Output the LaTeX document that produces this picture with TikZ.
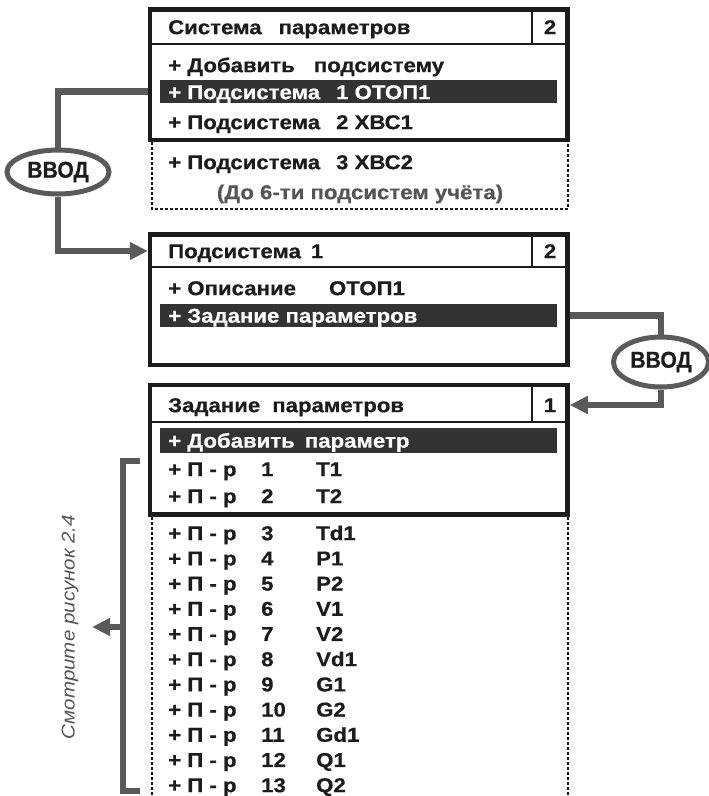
\documentclass[tikz,border=0pt]{standalone}
\usepackage{fontspec}
\setmainfont{Liberation Sans}[FakeStretch=1.11,BoldFeatures={FakeBold=0.6}]
\newfontfamily\vvodfont{Liberation Sans}[FakeStretch=0.92,BoldFeatures={FakeBold=0.6}]
\usetikzlibrary{shapes.geometric,arrows.meta}

\definecolor{ramka}{HTML}{1C1C1C}
\definecolor{strelka}{HTML}{5A5A5A}
\definecolor{vydel}{HTML}{333333}
\definecolor{seryj}{HTML}{555555}

\begin{document}
\begin{tikzpicture}[x=1pt,y=-1pt,line join=miter,font=\fontsize{20}{20}\selectfont\bfseries,
	ramkabox/.style={draw=ramka,line width=4.5pt,inner sep=0pt,minimum width=417.5pt},
	tonk/.style={draw=ramka,line width=1.8pt},
	punktir/.style={draw=ramka,line width=1.2pt,dash pattern=on 3pt off 2pt},
	vydbar/.style={fill=vydel,inner sep=0pt,minimum width=397pt,minimum height=23pt,anchor=west},
	stroka/.style={anchor=west,inner sep=0pt,text=ramka,text height=14.3pt,text depth=0pt},
	belstroka/.style={stroka,text=white},
	svyaz/.style={draw=strelka,line width=6.5pt},
	tip/.style={-{Triangle[length=18pt,width=17pt]}},
	vvod/.style={ellipse,draw=strelka,line width=5pt,fill=white,inner sep=0pt,text=ramka,
		font=\vvodfont\fontsize{23}{23}\selectfont\bfseries}]
	% рамка рисунка
	\useasboundingbox (0,0) rectangle (709,796);
	% Система параметров
	\node[ramkabox,minimum height=130.5pt] (sys) at (358.75,74.75) {};
	\draw[tonk] (150,44)--(567.5,44) (532,9.5)--(532,44);
	\node[stroka] (systitle) at (168,27) {Система\hspace{17pt}параметров};
	\node[stroka,anchor=center] (sysnum) at (550,27) {2};
	\node[stroka] (sysadd) at (168,65) {+ Добавить\hspace{19pt}подсистему};
	\node[vydbar,minimum height=23pt] (hl1) at (160,91.5) {};
	\node[belstroka] (sys1) at (168,92) {+ Подсистема\hspace{16pt}1 ОТОП1};
	\node[stroka] (sys2) at (168,122) {+ Подсистема\hspace{16pt}2 ХВС1};
	\draw[punktir] (152,142)--(152,209)--(568,209)--(568,142);
	\node[stroka] (sys3) at (168,162) {+ Подсистема\hspace{16pt}3 ХВС2};
	\node[stroka,anchor=center,text=seryj] (sysmax) at (360,192) {(До 6-ти подсистем учёта)};
	% Подсистема 1
	\node[ramkabox,minimum height=130.5pt] (sub) at (358.75,299.75) {};
	\draw[tonk] (150,267)--(567.5,267) (532,234.5)--(532,267);
	\node[stroka] (subtitle) at (168,251) {Подсистема\hspace{10pt}1};
	\node[stroka,anchor=center] (subnum) at (550,251) {2};
	\node[stroka] (subopis) at (168,288) {+ Описание\hspace{33pt}ОТОП1};
	\node[vydbar] (hl2) at (160,315.5) {};
	\node[belstroka] (subzad) at (168,315.5) {+ Задание параметров};
	% Задание параметров
	\node[ramkabox,minimum height=129.5pt] (par) at (358.75,449.75) {};
	\draw[tonk] (150,422)--(567.5,422) (532,385)--(532,422);
	\node[stroka] (partitle) at (168,405) {Задание\hspace{12pt}параметров};
	\node[stroka,anchor=center] (parnum) at (550,405) {1};
	\node[vydbar,minimum height=25pt] (hl3) at (160,440.5) {};
	\node[belstroka] (paradd) at (168,440.5) {+ Добавить\hspace{10pt}параметр};
	\draw[punktir] (152,517)--(152,796) (568,517)--(568,796);
	% список параметров
	\foreach \n/\nm/\y in {1/T1/469,2/T2/496,3/Td1/533,4/P1/558.2,5/P2/583.4,6/V1/608.6,
		7/V2/633.8,8/Vd1/659,9/G1/684.2,10/G2/709.4,11/Gd1/734.6,12/Q1/759.8,13/Q2/785}{
		\node[stroka] (pr\n) at (168,\y) {+ П - р};
		\node[stroka] (prn\n) at (261,\y) {\n};
		\node[stroka] (prnm\n) at (316,\y) {\nm};
	}
	% ВВОД
	\node[vvod,minimum width=102pt,minimum height=44pt] (vvodL) at (58,172) {ВВОД};
	\node[vvod,minimum width=95pt,minimum height=50pt] (vvodR) at (661,362) {ВВОД};
	\draw[svyaz] (sys.west |- hl1.west) -| (vvodL.north);
	\draw[svyaz,tip] (vvodL.south) |- (sub.west |- subtitle.west);
	\draw[svyaz] (sub.east |- hl2.east) -| (vvodR.north);
	\draw[svyaz,tip] (vvodR.south) |- (par.east |- partitle.east);
	% скобка и ссылка
	\coordinate (skobT) at (140,461);
	\coordinate (skobB) at (140,791);
	\coordinate (skobM) at (123,627);
	\coordinate (ssylka) at (92,627);
	\draw[svyaz] (skobT) -- (skobT -| skobM) -- (skobB -| skobM) -- (skobB);
	\draw[svyaz,tip] (skobM) -- (ssylka);
	\node[rotate=90,text=seryj,font=\fontsize{18.5}{18.5}\selectfont\itshape] (smotr) at (70,627) {Смотрите рисунок 2.4};
\end{tikzpicture}
\end{document}
